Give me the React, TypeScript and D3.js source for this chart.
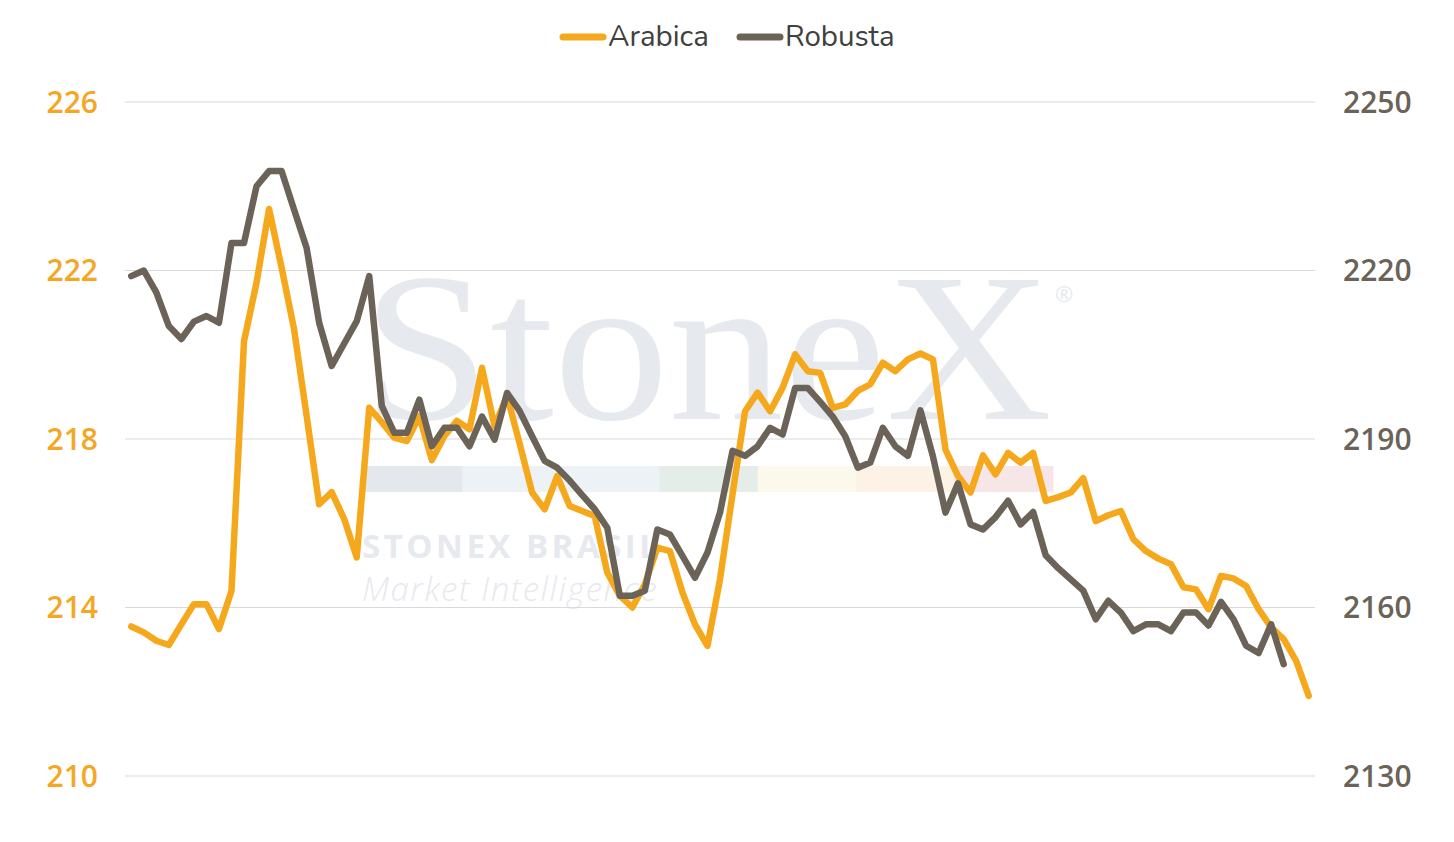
// Arabica vs Robusta dual-axis line chart (StoneX style)
import * as d3 from "d3"

// Arabica (left axis, USc/lb) and Robusta (right axis, USD/t), one value per trading day
const arabica = [
  213.55, 213.41, 213.21, 213.11, 213.6, 214.08, 214.08, 213.49, 214.39, 220.32,
  221.71, 223.46, 222.07, 220.6, 218.55, 216.45, 216.74, 216.1, 215.19, 218.74,
  218.4, 218.03, 217.95, 218.54, 217.5, 218.07, 218.43, 218.23, 219.69, 218.3,
  219.02, 217.9, 216.73, 216.33, 217.12, 216.41, 216.29, 216.17, 214.83, 214.28,
  214.0, 214.55, 215.42, 215.34, 214.36, 213.6, 213.09, 214.67, 216.69, 218.66,
  219.1, 218.66, 219.22, 220.01, 219.61, 219.57, 218.74, 218.82, 219.14, 219.3,
  219.81, 219.61, 219.89, 220.03, 219.89, 217.75, 217.12, 216.73, 217.61, 217.16,
  217.67, 217.44, 217.67, 216.53, 216.62, 216.73, 217.07, 216.05, 216.19, 216.29,
  215.62, 215.34, 215.16, 215.03, 214.48, 214.43, 213.96, 214.75, 214.69, 214.51,
  213.96, 213.53, 213.25, 212.73, 211.9,
]

const robusta = [
  2219.0, 2220.0, 2216.1, 2210.1, 2207.8, 2210.9, 2211.9, 2210.7, 2224.9, 2224.9,
  2235.0, 2237.7, 2237.7, 2230.8, 2224.0, 2210.7, 2203.0, 2207.0, 2211.0, 2219.0,
  2195.9, 2191.1, 2191.1, 2197.0, 2188.7, 2192.0, 2192.0, 2188.7, 2194.0, 2189.9,
  2198.2, 2195.0, 2190.5, 2186.1, 2184.9, 2182.6, 2180.0, 2177.5, 2174.2, 2162.1,
  2162.1, 2163.0, 2173.9, 2173.0, 2169.2, 2165.3, 2169.8, 2176.9, 2187.9, 2187.0,
  2188.7, 2192.0, 2190.8, 2199.1, 2199.1, 2196.6, 2194.0, 2190.5, 2184.9, 2185.8,
  2192.0, 2188.7, 2187.0, 2195.1, 2186.9, 2176.9, 2182.1, 2174.8, 2173.9, 2176.1,
  2179.0, 2174.8, 2177.0, 2169.3, 2167.0, 2165.0, 2163.0, 2157.9, 2161.2, 2159.1,
  2155.8, 2157.0, 2157.0, 2155.8, 2159.1, 2159.1, 2156.8, 2161.0, 2157.9, 2153.2,
  2151.9, 2157.0,
  2149.9,
]

const leftTicks = [210, 214, 218, 222, 226]
const rightTicks = [2130, 2160, 2190, 2220, 2250]

const ARABICA = "#F5A81C"
const ROBUSTA = "#6B6357"

// watermark band colours (logo decoration behind the plot); the light blue spans two slots
const bandColors = ["#E4E7EC", "#EDF2F7", "#EDF2F7", "#E4EDE8", "#FBF9EC", "#FDF2E6", "#F7E6E8"]

export default function App() {
  const width = 1454
  const height = 842
  const plot = { left: 125, right: 1315, top: 102, bottom: 776 }

  const x = d3.scalePoint<number>()
    .domain(d3.range(arabica.length))
    .range([plot.left, plot.right])
    .padding(0.5)

  const yLeft = d3.scaleLinear().domain([210, 226]).range([plot.bottom, plot.top])
  const yRight = d3.scaleLinear().domain([2130, 2250]).range([plot.bottom, plot.top])

  const arabicaLine = d3.line<number>()
    .x((_, i) => x(i)!)
    .y(d => yLeft(d))

  const robustaLine = d3.line<number>()
    .x((_, i) => x(i)!)
    .y(d => yRight(d))

  const band = d3.scaleBand<number>()
    .domain(d3.range(bandColors.length))
    .range([364, 1053])

  const tickFont = "'Open Sans', 'DejaVu Sans', sans-serif"

  return (
    <svg
      width={width}
      height={height}
      style={{ position: "absolute", left: 0, top: 0, background: "#fff" }}
    >
      {/* watermark */}
      <g>
        <text
          x={362}
          y={419}
          fontFamily="'Liberation Serif', 'DejaVu Serif', serif"
          fontSize={212}
          fill="#E6E9EE"
          textLength={690}
          lengthAdjust="spacingAndGlyphs"
        >
          StoneX
        </text>
        <text x={1055} y={302} fontFamily={tickFont} fontSize={22} fill="#E6E9EE">®</text>
        {bandColors.map((c, i) => (
          <rect key={i} x={band(i)} y={466} width={band.bandwidth() + 0.5} height={26} fill={c} />
        ))}
        <text
          x={362}
          y={558}
          fontFamily="'Open Sans', sans-serif"
          fontWeight={700}
          fontSize={33}
          letterSpacing={3.5}
          fill="#E6E9EE"
        >
          STONEX BRASIL
        </text>
        <text
          x={362}
          y={601}
          fontFamily="'Open Sans', sans-serif"
          fontStyle="italic"
          fontWeight={300}
          fontSize={33}
          letterSpacing={1.5}
          fill="#E6E9EE"
        >
          Market Intelligence
        </text>
      </g>

      {/* gridlines */}
      {leftTicks.map(t => (
        <line
          key={t}
          x1={plot.left}
          x2={plot.right}
          y1={yLeft(t)}
          y2={yLeft(t)}
          stroke="#D9D9D9"
          strokeWidth={1}
        />
      ))}

      {/* left axis labels */}
      {leftTicks.map(t => (
        <text
          key={t}
          x={98}
          y={yLeft(t)}
          dy="0.36em"
          textAnchor="end"
          fontFamily={tickFont}
          fontWeight={600}
          fontSize={30}
          fill="#F5A623"
        >
          {t}
        </text>
      ))}

      {/* right axis labels */}
      {rightTicks.map(t => (
        <text
          key={t}
          x={1343}
          y={yRight(t)}
          dy="0.36em"
          fontFamily={tickFont}
          fontWeight={600}
          fontSize={30}
          fill={ROBUSTA}
        >
          {t}
        </text>
      ))}

      {/* series */}
      <path
        d={arabicaLine(arabica)!}
        fill="none"
        stroke={ARABICA}
        strokeWidth={6.5}
        strokeLinejoin="round"
        strokeLinecap="round"
      />
      <path
        d={robustaLine(robusta)!}
        fill="none"
        stroke={ROBUSTA}
        strokeWidth={6.5}
        strokeLinejoin="round"
        strokeLinecap="round"
      />

      {/* legend */}
      <g fontFamily="'Nunito', 'Open Sans', sans-serif" fontSize={29.5} fill="#404040">
        <line x1={563} x2={603} y1={37} y2={37} stroke={ARABICA} strokeWidth={7} strokeLinecap="round" />
        <text x={608} y={46}>Arabica</text>
        <line x1={740} x2={780} y1={37} y2={37} stroke={ROBUSTA} strokeWidth={7} strokeLinecap="round" />
        <text x={785} y={46}>Robusta</text>
      </g>
    </svg>
  )
}
